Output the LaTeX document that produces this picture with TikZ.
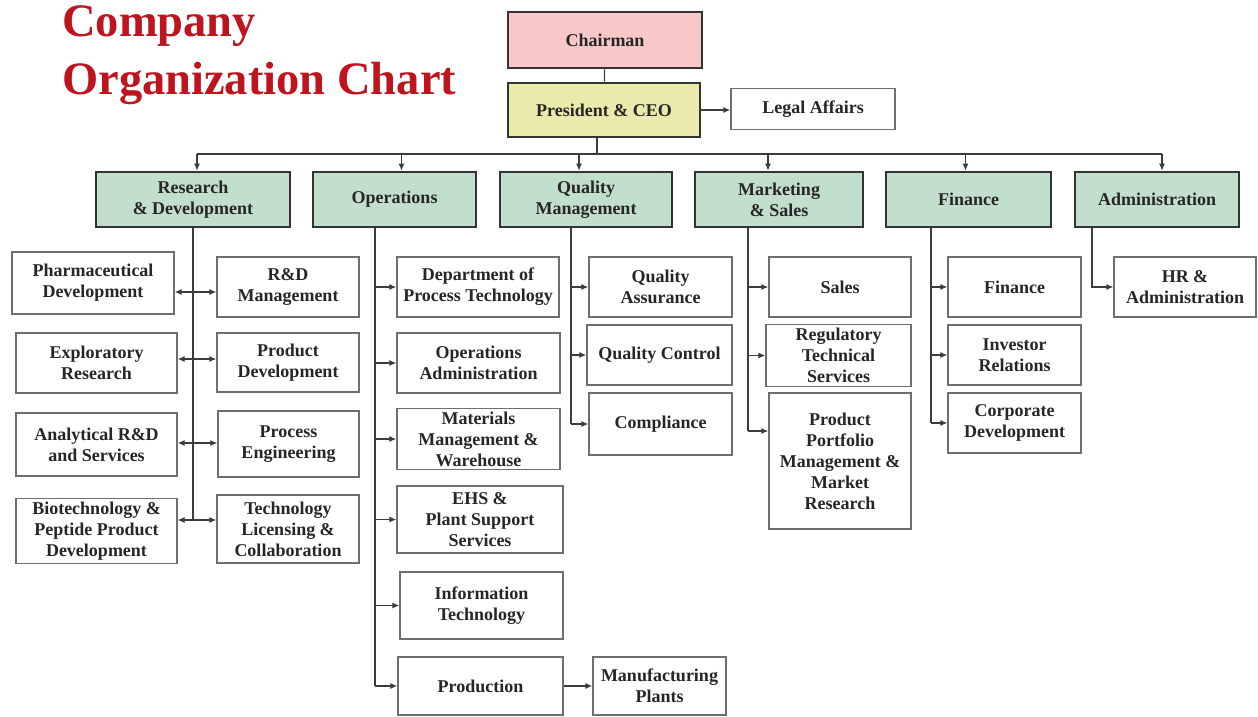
\documentclass[tikz,border=0pt]{standalone}
\usepackage{fontspec}
\setmainfont{Liberation Serif}
\usepackage{tikz}
\usetikzlibrary{positioning, arrows.meta}

\definecolor{titlered}{RGB}{190,20,30}
\definecolor{chairpink}{RGB}{248,200,200}
\definecolor{ceoyellow}{RGB}{234,234,172}
\definecolor{deptgreen}{RGB}{194,222,204}
\definecolor{boxline}{RGB}{110,110,110}
\definecolor{linkgray}{RGB}{60,60,60}

\tikzstyle{link} = [linkgray, line width=1.2pt]
\tikzstyle{arrow} = [linkgray, line width=1.2pt, -{Latex[length=7pt,width=6pt]}]
\tikzstyle{topbox} = [draw=black!80, line width=2.6pt, align=center, text=black!85, font=\bfseries\fontsize{18}{21}\selectfont]
\tikzstyle{subbox} = [draw=boxline, line width=1.3pt, fill=white, align=center, text=black!85, font=\bfseries\fontsize{18}{21}\selectfont]

\begin{document}
\begin{tikzpicture}[x=1pt, y=-1pt]
  \useasboundingbox (0,0) rectangle (1258,717);

  % Title
  \node[anchor=base west, inner sep=0, text=titlered, font=\bfseries\fontsize{46.5}{58}\selectfont] (ttl1) at (62,37) {Company};
  \node[anchor=base west, inner sep=0, text=titlered, font=\bfseries\fontsize{46.5}{58}\selectfont] (ttl2) at (62,94) {Organization Chart};

  % Top of the chart
  \node[topbox, fill=chairpink, minimum width=194, minimum height=56] (chair) at (605,40) {Chairman};
  \node[topbox, fill=ceoyellow, minimum width=192, minimum height=54] (pres) at (604,110) {President \& CEO};
  \node[subbox, minimum width=164, minimum height=41] (legal) at (813,109) {Legal Affairs};

  \draw[link] (chair) -- (pres);
  \draw[arrow] (pres.east) -- (pres.east -| legal.west);

  % Departments
  \node[topbox, fill=deptgreen, minimum width=194, minimum height=55] (rd) at (193,199.5) {Research\\ \& Development};
  \node[topbox, fill=deptgreen, minimum width=163, minimum height=55] (ops) at (394.5,199.5) {Operations};
  \node[topbox, fill=deptgreen, minimum width=172, minimum height=55] (qm) at (586,199.5) {Quality\\Management};
  \node[topbox, fill=deptgreen, minimum width=168, minimum height=55] (ms) at (779,199.5) {Marketing\\ \& Sales};
  \node[topbox, fill=deptgreen, minimum width=165, minimum height=55] (fin) at (968.5,199.5) {Finance};
  \node[topbox, fill=deptgreen, minimum width=164, minimum height=55] (adm) at (1157,199.5) {Administration};

  \coordinate (bus) at (597,154);
  \coordinate (rd-in) at ([xshift=4]rd.north);
  \coordinate (ops-in) at ([xshift=7]ops.north);
  \coordinate (qm-in) at ([xshift=-7]qm.north);
  \coordinate (ms-in) at ([xshift=-11]ms.north);
  \coordinate (fin-in) at ([xshift=-3]fin.north);
  \coordinate (adm-in) at ([xshift=5]adm.north);

  \draw[link] (pres.south -| bus) -- (bus);
  \draw[link] (rd-in |- bus) -- (adm-in |- bus);
  \foreach \d in {rd,ops,qm,ms,fin,adm}
    \draw[arrow] (\d-in |- bus) -- (\d-in);

  % Research & Development
  \node[subbox, minimum width=162, minimum height=62] (pharm) at (93,283) {Pharmaceutical\\Development};
  \node[subbox, minimum width=161, minimum height=60] (explo) at (96.5,363) {Exploratory\\Research};
  \node[subbox, minimum width=161, minimum height=63] (anal) at (96.5,444.5) {Analytical R\&D\\and Services};
  \node[subbox, minimum width=161, minimum height=64] (biot) at (96.5,531) {Biotechnology \&\\Peptide Product\\Development};
  \node[subbox, minimum width=142, minimum height=60] (rdm) at (288,287) {R\&D\\Management};
  \node[subbox, minimum width=142, minimum height=59] (pdev) at (288,362.5) {Product\\Development};
  \node[subbox, minimum width=141, minimum height=66] (proc) at (288.5,444) {Process\\Engineering};
  \node[subbox, minimum width=142, minimum height=68] (tech) at (288,529) {Technology\\Licensing \&\\Collaboration};

  \coordinate (rd-r1) at (193,292);
  \coordinate (rd-r2) at (193,359);
  \coordinate (rd-r3) at (193,443);
  \coordinate (rd-r4) at (193,520);
  \draw[link] (rd.south) -- (rd-r4);
  \foreach \l/\r/\k in {pharm/rdm/rd-r1, explo/pdev/rd-r2, anal/proc/rd-r3, biot/tech/rd-r4}
    \draw[arrow, {Latex[length=7pt,width=6pt]}-{Latex[length=7pt,width=6pt]}] (\l.east |- \k) -- (\r.west |- \k);

  % Operations
  \node[subbox, minimum width=162, minimum height=60] (dpt) at (478,287) {Department of\\Process Technology};
  \node[subbox, minimum width=163, minimum height=60] (opa) at (478.5,363) {Operations\\Administration};
  \node[subbox, minimum width=163, minimum height=60] (mat) at (478.5,439) {Materials\\Management \&\\Warehouse};
  \node[subbox, minimum width=166, minimum height=67] (ehs) at (480,519.5) {EHS \&\\Plant Support\\Services};
  \node[subbox, minimum width=163, minimum height=67] (it) at (481.5,605.5) {Information\\Technology};
  \node[subbox, minimum width=165, minimum height=58] (prod) at (480.5,686) {Production};
  \node[subbox, minimum width=133, minimum height=58] (mfg) at (659.5,686) {Manufacturing\\Plants};

  \coordinate (ops-out) at ([xshift=-19.5]ops.south);
  \draw[link] (ops-out) -- (ops-out |- prod.west);
  \foreach \b in {dpt,opa,mat,ehs,it,prod}
    \draw[arrow] (ops-out |- \b.west) -- (\b.west);
  \draw[arrow] (prod) -- (mfg);

  % Quality Management
  \node[subbox, minimum width=143, minimum height=60] (qa) at (660.5,287) {Quality\\Assurance};
  \node[subbox, minimum width=145, minimum height=60] (qc) at (659.5,355) {Quality Control};
  \node[subbox, minimum width=143, minimum height=62] (comp) at (660.5,424) {Compliance};

  \coordinate (qm-out) at ([xshift=-15]qm.south);
  \draw[link] (qm-out) -- (qm-out |- comp.west);
  \foreach \b in {qa,qc,comp}
    \draw[arrow] (qm-out |- \b.west) -- (\b.west);

  % Marketing & Sales
  \node[subbox, minimum width=142, minimum height=60] (sales) at (840,287) {Sales};
  \node[subbox, minimum width=145, minimum height=61] (reg) at (838.5,355.5) {Regulatory\\Technical\\Services};
  \node[subbox, minimum width=142, minimum height=136] (ppm) at (840,461) {Product\\Portfolio\\Management \&\\Market\\Research};

  \coordinate (ms-out) at ([xshift=-31]ms.south);
  \coordinate (ppm-in) at ([yshift=30]ppm.west);
  \draw[link] (ms-out) -- (ms-out |- ppm-in);
  \foreach \b in {sales.west,reg.west,ppm-in}
    \draw[arrow] (ms-out |- \b) -- (\b);

  % Finance
  \node[subbox, minimum width=133, minimum height=60] (finb) at (1014.5,287) {Finance};
  \node[subbox, minimum width=133, minimum height=60] (inv) at (1014.5,355) {Investor\\Relations};
  \node[subbox, minimum width=133, minimum height=60] (corp) at (1014.5,423) {Corporate\\Development};

  \coordinate (fin-out) at ([xshift=-37.5]fin.south);
  \draw[link] (fin-out) -- (fin-out |- corp.west);
  \foreach \b in {finb,inv,corp}
    \draw[arrow] (fin-out |- \b.west) -- (\b.west);

  % Administration
  \node[subbox, minimum width=142, minimum height=60] (hr) at (1185,287) {HR \&\\Administration};

  \coordinate (adm-out) at ([xshift=-65]adm.south);
  \draw[arrow] (adm-out) |- (hr.west);
\end{tikzpicture}
\end{document}
